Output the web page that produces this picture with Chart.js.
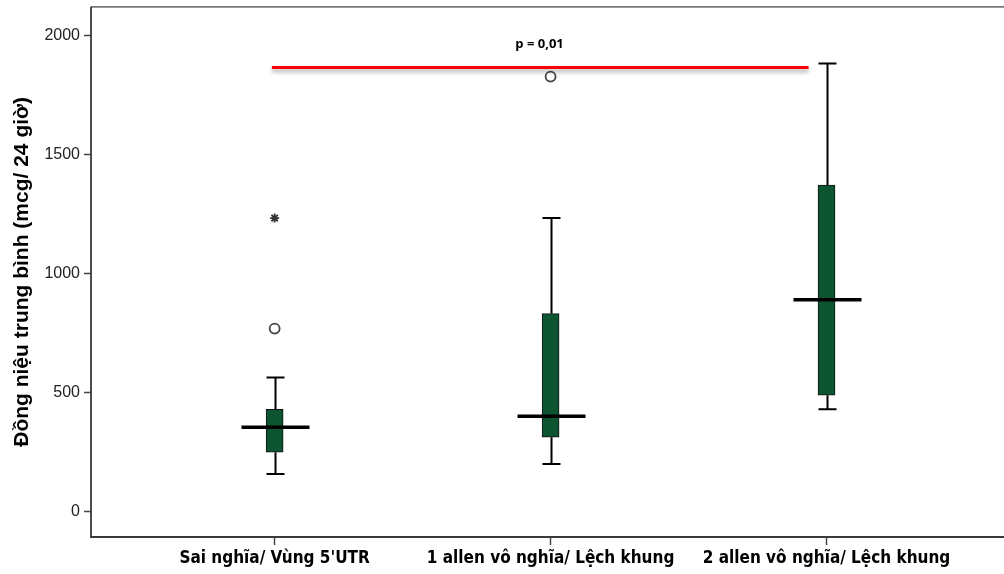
<!DOCTYPE html>
<html>
<head>
<meta charset="utf-8">
<script src="https://cdn.jsdelivr.net/npm/chart.js@4.4.1/dist/chart.umd.min.js"></script>
<style>
  html, body { margin: 0; padding: 0; background: #fff; }
  #wrap { width: 1004px; height: 574px; }
</style>
</head>
<body>
<div id="wrap"><canvas id="chart" width="1004" height="574"></canvas></div>
<script>
// Groups and box summaries (mcg / 24h)
const categories = ['Sai nghĩa/ Vùng 5\'UTR', '1 allen vô nghĩa/ Lệch khung', '2 allen vô nghĩa/ Lệch khung'];
const whiskerLow = [159, 201, 431];
const q1 = [251, 314, 490];
const median = [356, 402, 891];
const q3 = [431, 833, 1372];
const whiskerHigh = [565, 1234, 1883];
// outliers (circle) and extremes (star), as [group number, value]
const outliers = [[1, 770], [2, 1828]];
const extremes = [[1, 1234]];
const yTicks = [0, 500, 1000, 1500, 2000];
// significance bar between group 1 and group 3
const pLabel = 'p = 0,01';
const pValueLine = 1866;

const BOX_GREEN = '#0d5430';
const BOX_W = 17;
const CAP_W = 18;
const MEDIAN_W = 68;

const boxExtras = {
  id: 'boxExtras',
  afterDatasetsDraw(chart) {
    const { ctx, scales: { x, y }, chartArea } = chart;
    ctx.save();
    ctx.strokeStyle = '#000';
    ctx.lineCap = 'butt';
    categories.forEach((c, i) => {
      const cx = Math.round(x.getPixelForValue(i + 1)) + 0.5;
      // whiskers
      ctx.lineWidth = 2;
      ctx.beginPath();
      ctx.moveTo(cx, y.getPixelForValue(q3[i]));
      ctx.lineTo(cx, y.getPixelForValue(whiskerHigh[i]));
      ctx.moveTo(cx, y.getPixelForValue(q1[i]));
      ctx.lineTo(cx, y.getPixelForValue(whiskerLow[i]));
      // caps
      [whiskerHigh[i], whiskerLow[i]].forEach(v => {
        const py = y.getPixelForValue(v);
        ctx.moveTo(cx - CAP_W / 2, py);
        ctx.lineTo(cx + CAP_W / 2, py);
      });
      ctx.stroke();
      // median
      ctx.lineWidth = 3.5;
      ctx.beginPath();
      const my = y.getPixelForValue(median[i]);
      ctx.moveTo(cx - MEDIAN_W / 2, my);
      ctx.lineTo(cx + MEDIAN_W / 2, my);
      ctx.stroke();
    });

    // significance line with soft shadow
    ctx.save();
    ctx.strokeStyle = '#ff0000';
    ctx.lineWidth = 3;
    ctx.shadowColor = 'rgba(0,0,0,0.35)';
    ctx.shadowBlur = 4;
    ctx.shadowOffsetY = 3;
    const ly = y.getPixelForValue(pValueLine);
    ctx.beginPath();
    ctx.moveTo(x.getPixelForValue(0.99), ly);
    ctx.lineTo(x.getPixelForValue(2.935), ly);
    ctx.stroke();
    ctx.restore();

    ctx.fillStyle = '#000';
    ctx.font = 'bold 13px "Open Sans", "Liberation Sans", sans-serif';
    ctx.textAlign = 'center';
    ctx.textBaseline = 'middle';
    ctx.fillText(pLabel, x.getPixelForValue(1.96), y.getPixelForValue(1962));

    // frame: top, left, bottom (right side runs off the canvas)
    const { left, top, bottom } = chartArea;
    const edge = chart.width + 2;
    ctx.lineWidth = 1.8;
    ctx.strokeStyle = '#777';
    ctx.beginPath();
    ctx.moveTo(left, top);
    ctx.lineTo(edge, top);
    ctx.stroke();
    ctx.strokeStyle = '#3a3a3a';
    ctx.beginPath();
    ctx.moveTo(left, top);
    ctx.lineTo(left, bottom);
    ctx.lineTo(edge, bottom);
    ctx.stroke();
    ctx.restore();
  }
};

new Chart(document.getElementById('chart'), {
  type: 'bar',
  data: {
    datasets: [
      {
        type: 'bar',
        data: categories.map((c, i) => ({ x: i + 1, y: [q1[i], q3[i]] })),
        backgroundColor: BOX_GREEN,
        borderColor: '#111',
        borderWidth: 1,
        borderSkipped: false,
        barThickness: BOX_W
      },
      {
        type: 'scatter',
        data: outliers.map(o => ({ x: o[0], y: o[1] })),
        pointStyle: 'circle',
        pointRadius: 5,
        pointBorderWidth: 1.8,
        pointBorderColor: '#444',
        pointBackgroundColor: '#fff'
      },
      {
        type: 'scatter',
        data: extremes.map(o => ({ x: o[0], y: o[1] })),
        pointStyle: 'star',
        pointRadius: 4.5,
        pointBorderWidth: 1.8,
        pointBorderColor: '#333'
      }
    ]
  },
  options: {
    responsive: false,
    animation: false,
    devicePixelRatio: 1,
    layout: { padding: { left: 0, top: 5, right: 0, bottom: 0 } },
    plugins: { legend: { display: false }, tooltip: { enabled: false } },
    scales: {
      x: {
        type: 'linear',
        min: 0.3345,
        max: 3.6185,
        offset: false,
        afterBuildTicks: s => { s.ticks = categories.map((c, i) => ({ value: i + 1 })); },
        afterFit: s => { s.height = 37; s.paddingLeft = 0; s.paddingRight = 0; },
        grid: { offset: false, drawOnChartArea: false, drawTicks: true, tickLength: 8, tickColor: '#444', tickWidth: 1.5 },
        border: { display: false },
        ticks: {
          callback: v => categories[v - 1],
          padding: 3,
          maxRotation: 0,
          autoSkip: false,
          color: '#000',
          font: { family: '"Liberation Sans Narrow", "DejaVu Sans Condensed", sans-serif', size: 17, weight: 'bold' }
        }
      },
      y: {
        min: -105,
        max: 2121,
        afterBuildTicks: s => { s.ticks = yTicks.map(v => ({ value: v })); },
        afterFit: s => { s.width = 91; s.paddingTop = 0; s.paddingBottom = 0; },
        grid: { drawOnChartArea: false, drawTicks: true, tickLength: 7, tickColor: '#444', tickWidth: 1.5 },
        border: { display: false },
        ticks: {
          callback: v => String(v),
          padding: 4,
          color: '#222',
          font: { family: '"Liberation Sans", Arial, sans-serif', size: 16 }
        },
        title: {
          display: true,
          text: 'Đồng niệu trung bình (mcg/ 24 giờ)',
          color: '#000',
          padding: { top: 10, bottom: 0 },
          font: { family: '"Liberation Sans", Arial, sans-serif', size: 21, weight: 'bold' }
        }
      }
    }
  },
  plugins: [boxExtras]
});
</script>
</body>
</html>
